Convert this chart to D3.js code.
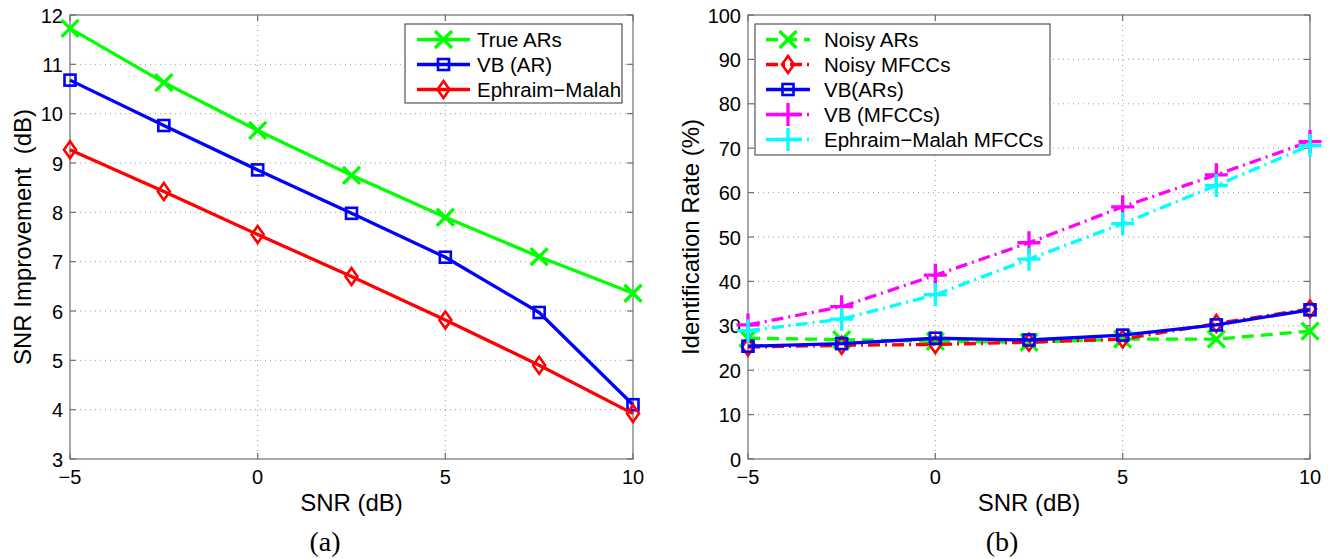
<!DOCTYPE html>
<html>
<head>
<meta charset="utf-8">
<script src="https://cdn.jsdelivr.net/npm/d3@7"></script>
<style>
  body { margin: 0; background: #fff; }
  svg { display: block; font-family: "Liberation Sans", Arial, sans-serif; }
</style>
</head>
<body>
<div class="box"></div>
<script>
// x values shared by both panels
const snr = [-5, -2.5, 0, 2.5, 5, 7.5, 10];

// panel (a): SNR improvement (dB)
const trueARs = [11.73, 10.63, 9.66, 8.75, 7.90, 7.10, 6.36];
const vbAR = [10.68, 9.76, 8.86, 7.98, 7.09, 5.97, 4.10];
const ephraimMalah = [9.27, 8.42, 7.55, 6.70, 5.82, 4.90, 3.92];

// panel (b): identification rate (%)
const noisyARs = [27.2, 26.9, 26.5, 26.3, 27.0, 27.0, 28.8];
const noisyMFCCs = [25.2, 25.6, 25.8, 26.3, 27.0, 30.5, 33.8];
const vbARs = [25.4, 26.0, 27.2, 26.8, 27.9, 30.2, 33.6];
const vbMFCCs = [30.2, 34.3, 41.4, 48.7, 56.8, 64.0, 71.5];
const emMFCCs = [28.9, 31.5, 37.0, 45.0, 53.0, 61.6, 70.6];

const xTicks = [-5, 0, 5, 10];
const yTicksA = [3, 4, 5, 6, 7, 8, 9, 10, 11, 12];
const yTicksB = [0, 10, 20, 30, 40, 50, 60, 70, 80, 90, 100];

const W = 1330, H = 559;
const svg = d3.create("svg").attr("width", W).attr("height", H);
d3.select(".box").node().appendChild(svg.node());

const dashes = { solid: null, dash: "12,7", dashdot: "12,5,2,5" };

function marker(g, type, color) {
  if (type === "x") {
    g.append("path").attr("d", "M-8.5,-8.5L8.5,8.5M-8.5,8.5L8.5,-8.5")
      .attr("stroke", color).attr("stroke-width", 3.3).attr("fill", "none");
  } else if (type === "square") {
    g.append("rect").attr("x", -5.5).attr("y", -5.5).attr("width", 11).attr("height", 11)
      .attr("stroke", color).attr("stroke-width", 2.6).attr("fill", "none");
  } else if (type === "diamond") {
    g.append("path").attr("d", "M0,-8.5L6,0L0,8.5L-6,0Z")
      .attr("stroke", color).attr("stroke-width", 2.6).attr("fill", "none");
  } else if (type === "plus") {
    g.append("path").attr("d", "M-11.5,0L11.5,0M0,-11.5L0,11.5")
      .attr("stroke", color).attr("stroke-width", 3.3).attr("fill", "none");
  }
}

function drawPanel(cfg) {
  const x = d3.scaleLinear().domain([-5, 10]).range([cfg.left, cfg.right]);
  const y = d3.scaleLinear().domain(cfg.yDomain).range([459, 15]);
  const g = svg.append("g");

  // dotted grid
  g.append("g").selectAll("line").data(xTicks.slice(1, -1)).join("line")
    .attr("x1", d => x(d)).attr("x2", d => x(d)).attr("y1", 15).attr("y2", 459)
    .attr("stroke", "#9a9a9a").attr("stroke-width", 1).attr("stroke-dasharray", "1,4");
  g.append("g").selectAll("line").data(cfg.yTicks.slice(1, -1)).join("line")
    .attr("x1", cfg.left).attr("x2", cfg.right).attr("y1", d => y(d)).attr("y2", d => y(d))
    .attr("stroke", "#9a9a9a").attr("stroke-width", 1).attr("stroke-dasharray", "1,4");

  // box + inward ticks on all sides
  g.append("rect").attr("x", cfg.left).attr("y", 15)
    .attr("width", cfg.right - cfg.left).attr("height", 444)
    .attr("fill", "none").attr("stroke", "#6e6e6e").attr("stroke-width", 1.2);
  const tk = g.append("g").attr("stroke", "#6e6e6e").attr("stroke-width", 1.2);
  xTicks.forEach(d => {
    tk.append("line").attr("x1", x(d)).attr("x2", x(d)).attr("y1", 459).attr("y2", 453);
    tk.append("line").attr("x1", x(d)).attr("x2", x(d)).attr("y1", 15).attr("y2", 21);
  });
  cfg.yTicks.forEach(d => {
    tk.append("line").attr("x1", cfg.left).attr("x2", cfg.left + 6).attr("y1", y(d)).attr("y2", y(d));
    tk.append("line").attr("x1", cfg.right).attr("x2", cfg.right - 6).attr("y1", y(d)).attr("y2", y(d));
  });

  // tick labels
  g.append("g").selectAll("text").data(xTicks).join("text")
    .attr("x", d => x(d)).attr("y", 484).attr("text-anchor", "middle")
    .attr("font-size", 20).text(d => d < 0 ? "\u2212" + Math.abs(d) : d);
  g.append("g").selectAll("text").data(cfg.yTicks).join("text")
    .attr("x", cfg.left - 7).attr("y", d => y(d) + 7.5).attr("text-anchor", "end")
    .attr("font-size", 20).text(d => d);

  // axis titles
  g.append("text").attr("x", (cfg.left + cfg.right) / 2).attr("y", 511)
    .attr("text-anchor", "middle").attr("font-size", 24).text("SNR (dB)");
  g.append("text").attr("transform", `translate(${cfg.yLabelX},237) rotate(-90)`)
    .attr("text-anchor", "middle").attr("font-size", 24)
    .style("white-space", "pre").text(cfg.yLabel);
  g.append("text").attr("x", cfg.capX).attr("y", 551).attr("text-anchor", "middle")
    .attr("font-family", "'Liberation Serif', 'Times New Roman', serif")
    .attr("font-size", 28).text(cfg.caption);

  // series
  const line = d3.line().x((d, i) => x(snr[i])).y(d => y(d));
  cfg.series.forEach(s => {
    g.append("path").datum(s.values).attr("d", line)
      .attr("fill", "none").attr("stroke", s.color).attr("stroke-width", 3.3)
      .attr("stroke-dasharray", dashes[s.style]).attr("stroke-linejoin", "round");
    s.values.forEach((v, i) => {
      marker(g.append("g").attr("transform", `translate(${x(snr[i])},${y(v)})`), s.marker, s.color);
    });
  });

  // legend
  const L = cfg.legend;
  const lg = g.append("g");
  lg.append("rect").attr("x", L.x).attr("y", L.y).attr("width", L.w).attr("height", L.h)
    .attr("fill", "#fff").attr("stroke", "#555").attr("stroke-width", 1.2);
  cfg.series.forEach((s, i) => {
    const cy = L.y + 15.5 + i * 25;
    lg.append("line").attr("x1", L.lx1).attr("x2", L.lx2).attr("y1", cy).attr("y2", cy)
      .attr("stroke", s.color).attr("stroke-width", 3.3).attr("stroke-dasharray", dashes[s.style]);
    marker(lg.append("g").attr("transform", `translate(${(L.lx1 + L.lx2) / 2},${cy})`), s.marker, s.color);
    lg.append("text").attr("x", L.tx).attr("y", cy + 7.5).attr("font-size", 20.5).text(s.name);
  });
}

drawPanel({
  left: 70, right: 633, yDomain: [3, 12], yTicks: yTicksA,
  yLabel: "SNR Improvement  (dB)", yLabelX: 31, caption: "(a)", capX: 325,
  series: [
    { name: "True ARs", values: trueARs, color: "#00ff00", style: "solid", marker: "x" },
    { name: "VB (AR)", values: vbAR, color: "#0000ff", style: "solid", marker: "square" },
    { name: "Ephraim\u2212Malah", values: ephraimMalah, color: "#ff0000", style: "solid", marker: "diamond" }
  ],
  legend: { x: 405, y: 24, w: 217, h: 79, lx1: 417, lx2: 470, tx: 477 }
});

drawPanel({
  left: 748, right: 1310, yDomain: [0, 100], yTicks: yTicksB,
  yLabel: "Identification Rate (%)", yLabelX: 699, caption: "(b)", capX: 1002,
  series: [
    { name: "Noisy ARs", values: noisyARs, color: "#00ff00", style: "dash", marker: "x" },
    { name: "Noisy MFCCs", values: noisyMFCCs, color: "#ff0000", style: "dashdot", marker: "diamond" },
    { name: "VB(ARs)", values: vbARs, color: "#0000ff", style: "solid", marker: "square" },
    { name: "VB (MFCCs)", values: vbMFCCs, color: "#ff00ff", style: "dashdot", marker: "plus" },
    { name: "Ephraim\u2212Malah MFCCs", values: emMFCCs, color: "#00ffff", style: "dashdot", marker: "plus" }
  ],
  legend: { x: 755, y: 24, w: 295, h: 131, lx1: 766, lx2: 810, tx: 824 }
});
</script>
</body>
</html>
